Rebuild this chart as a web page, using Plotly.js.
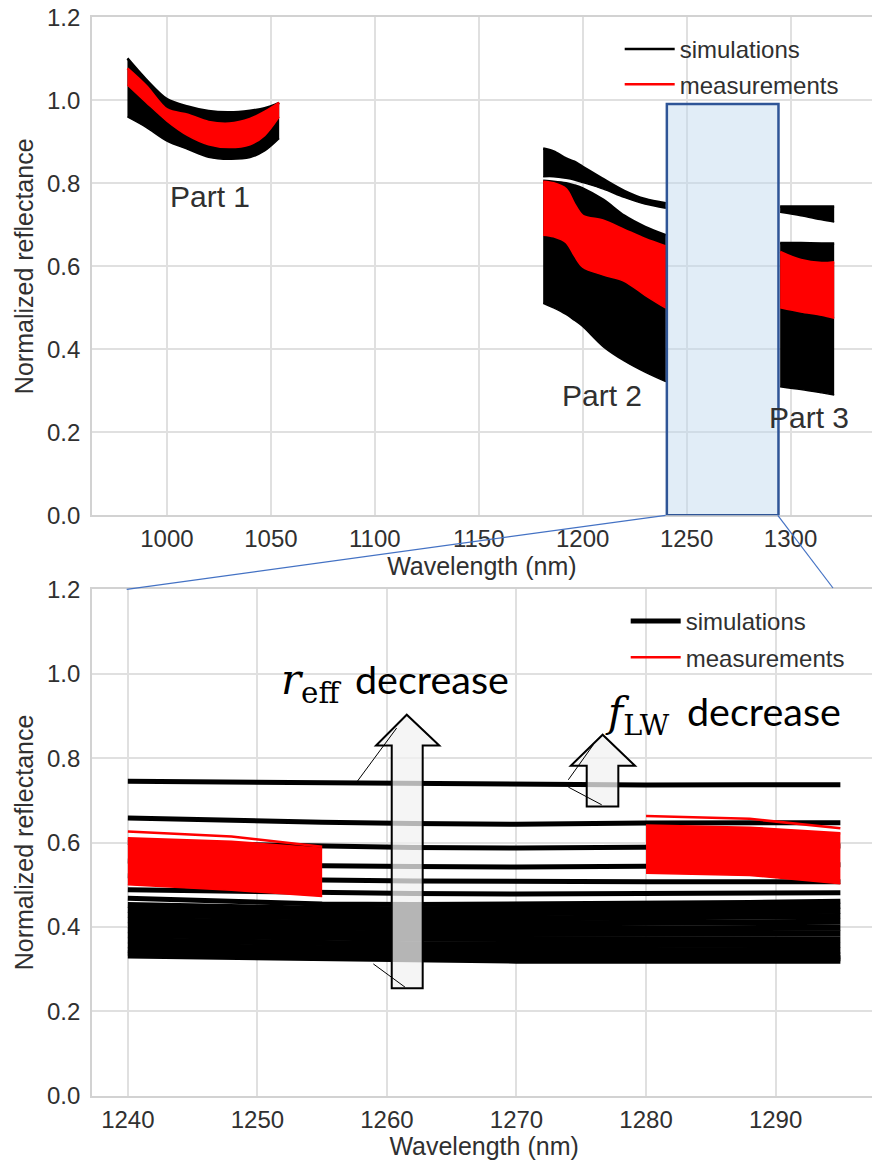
<!DOCTYPE html>
<html><head><meta charset="utf-8">
<script src="https://cdn.plot.ly/plotly-3.0.1.min.js"></script>
<style>html,body{margin:0;padding:0;overflow:hidden;background:#fff}#chart{width:880px;height:1160px}</style>
</head><body><div id="chart"></div>
<script>
// ================= DATA =================
// Top panel, Part 1
const part1Wavelength = [981, 990, 1000, 1010, 1020, 1030, 1040, 1047, 1054];
const part1SimUpper  = [1.101, 1.050, 1.003, 0.985, 0.974, 0.971, 0.975, 0.981, 0.994];
const part1SimLower  = [0.960, 0.935, 0.902, 0.882, 0.863, 0.858, 0.862, 0.878, 0.908];
const part1MeasUpper = [1.077, 1.035, 0.978, 0.965, 0.948, 0.944, 0.955, 0.972, 0.994];
const part1MeasLower = [1.037, 0.995, 0.950, 0.915, 0.893, 0.886, 0.893, 0.915, 0.960];
// Top panel, Part 2
const part2Wavelength   = [1181, 1186, 1192, 1196, 1200, 1210, 1220, 1230, 1240];
const part2SimTopUpper  = [0.884, 0.877, 0.860, 0.852, 0.840, 0.810, 0.782, 0.762, 0.752];
const part2SimTopLower  = [0.816, 0.816, 0.812, 0.808, 0.802, 0.786, 0.766, 0.750, 0.740];
const part2SimRestUpper = [0.806, 0.804, 0.800, 0.795, 0.788, 0.760, 0.722, 0.695, 0.675];
const part2SimRestLower = [0.511, 0.500, 0.484, 0.470, 0.455, 0.406, 0.372, 0.345, 0.322];
const part2MeasUpper    = [0.804, 0.800, 0.786, 0.750, 0.722, 0.710, 0.688, 0.666, 0.648];
const part2MeasLower    = [0.675, 0.671, 0.657, 0.625, 0.598, 0.579, 0.564, 0.530, 0.499];
// Top panel, Part 3
const part3Wavelength   = [1295, 1305, 1315, 1321];
const part3SimTopUpper  = [0.744, 0.744, 0.744, 0.744];
const part3SimTopLower  = [0.730, 0.722, 0.712, 0.707];
const part3SimRestUpper = [0.656, 0.656, 0.655, 0.655];
const part3SimRestLower = [0.310, 0.303, 0.295, 0.290];
const part3MeasUpper    = [0.635, 0.615, 0.608, 0.610];
const part3MeasLower    = [0.500, 0.490, 0.482, 0.475];

// Bottom panel (zoom 1240-1295 nm)
const zoomWavelength = [1240, 1248, 1255, 1262, 1270, 1280, 1288, 1295];
const zoomSim01 = [0.745, 0.743, 0.740, 0.738, 0.736, 0.736, 0.737, 0.737];
const zoomSim02 = [0.658, 0.652, 0.648, 0.645, 0.643, 0.646, 0.647, 0.647];
const zoomSim03 = [0.600, 0.595, 0.590, 0.588, 0.587, 0.588, 0.590, 0.592];
const zoomSim04 = [0.556, 0.550, 0.545, 0.543, 0.542, 0.544, 0.545, 0.547];
const zoomSim05 = [0.521, 0.515, 0.511, 0.509, 0.507, 0.507, 0.507, 0.507];
const zoomSim06 = [0.488, 0.484, 0.480, 0.479, 0.478, 0.479, 0.480, 0.481];
const zoomSim07 = [0.468, 0.460, 0.454, 0.453, 0.454, 0.456, 0.458, 0.461];
const zoomSim08 = [0.452, 0.447, 0.443, 0.442, 0.443, 0.445, 0.447, 0.450];
const zoomSim09 = [0.440, 0.435, 0.432, 0.431, 0.432, 0.434, 0.436, 0.438];
const zoomSim10 = [0.428, 0.424, 0.421, 0.420, 0.420, 0.422, 0.424, 0.426];
const zoomSim11 = [0.416, 0.412, 0.409, 0.408, 0.408, 0.409, 0.410, 0.412];
const zoomSim12 = [0.404, 0.400, 0.397, 0.396, 0.395, 0.396, 0.397, 0.398];
const zoomSim13 = [0.392, 0.388, 0.385, 0.384, 0.383, 0.383, 0.384, 0.385];
const zoomSim14 = [0.380, 0.376, 0.373, 0.372, 0.371, 0.370, 0.370, 0.371];
const zoomSim15 = [0.368, 0.364, 0.361, 0.359, 0.358, 0.357, 0.357, 0.357];
const zoomSim16 = [0.356, 0.352, 0.349, 0.347, 0.346, 0.345, 0.344, 0.344];
const zoomSim17 = [0.345, 0.341, 0.338, 0.336, 0.334, 0.333, 0.332, 0.332];
const zoomSim18 = [0.339, 0.335, 0.332, 0.329, 0.327, 0.326, 0.326, 0.326];
const zoomSim19 = [0.332, 0.328, 0.325, 0.322, 0.320, 0.320, 0.320, 0.320];
const zoomMeasWavelengthA = [1240, 1248, 1255];
const zoomMeasUpperA  = [0.610, 0.602, 0.585];
const zoomMeasLowerA  = [0.500, 0.487, 0.472];
const zoomMeasOutlierA = [0.626, 0.614, 0.590];
const zoomMeasWavelengthB = [1280, 1288, 1295];
const zoomMeasUpperB  = [0.640, 0.635, 0.622];
const zoomMeasLowerB  = [0.527, 0.522, 0.502];
const zoomMeasOutlierB = [0.663, 0.656, 0.634];

// Tick labels
const topXTicks = [1000, 1050, 1100, 1150, 1200, 1250, 1300];
const bottomXTicks = [1240, 1250, 1260, 1270, 1280, 1290];
const yTicks = [0.0, 0.2, 0.4, 0.6, 0.8, 1.0, 1.2];

// ================= BUILD =================
const SIM = '#000000', MEAS = '#ff0000';
const TXT = '#303030';
const traces = [];
function band(xs, up, lo, color, xa, ya, name, legendKey, showLeg, smooth) {
  const shape = smooth ? 'spline' : 'linear';
  traces.push({type:'scatter', mode:'lines', x:xs, y:up, xaxis:xa, yaxis:ya,
    line:{color:color, width:2.5, shape:shape, smoothing:0.9}, name:name, legendgroup:name, legend:legendKey,
    showlegend:showLeg, hoverinfo:'skip'});
  traces.push({type:'scatter', mode:'lines', x:xs, y:lo, xaxis:xa, yaxis:ya,
    line:{color:color, width:1.5, shape:shape, smoothing:0.9}, fill:'tonexty', fillcolor:color, name:name,
    legendgroup:name, legend:legendKey, showlegend:false, hoverinfo:'skip'});
}
// top: simulations
band(part1Wavelength, part1SimUpper, part1SimLower, SIM, 'x', 'y', 'simulations', 'legend', true, true);
band(part2Wavelength, part2SimTopUpper, part2SimTopLower, SIM, 'x', 'y', 'simulations', 'legend', false, true);
band(part2Wavelength, part2SimRestUpper, part2SimRestLower, SIM, 'x', 'y', 'simulations', 'legend', false, true);
band(part3Wavelength, part3SimTopUpper, part3SimTopLower, SIM, 'x', 'y', 'simulations', 'legend', false, true);
band(part3Wavelength, part3SimRestUpper, part3SimRestLower, SIM, 'x', 'y', 'simulations', 'legend', false, true);
// top: measurements
band(part1Wavelength, part1MeasUpper, part1MeasLower, MEAS, 'x', 'y', 'measurements', 'legend', true, true);
band(part2Wavelength, part2MeasUpper, part2MeasLower, MEAS, 'x', 'y', 'measurements', 'legend', false, true);
band(part3Wavelength, part3MeasUpper, part3MeasLower, MEAS, 'x', 'y', 'measurements', 'legend', false, true);

// bottom: simulations
const zoomSimLines = [zoomSim01, zoomSim02, zoomSim03, zoomSim04, zoomSim05, zoomSim06, zoomSim07,
  zoomSim08, zoomSim09, zoomSim10, zoomSim11, zoomSim12, zoomSim13, zoomSim14, zoomSim15,
  zoomSim16, zoomSim17, zoomSim18, zoomSim19];
zoomSimLines.forEach((ys, i) => {
  traces.push({type:'scatter', mode:'lines', x:zoomWavelength, y:ys, xaxis:'x2', yaxis:'y2',
    line:{color:SIM, width:i < 7 ? 5 : 6}, name:'simulations', legendgroup:'simulations2', legend:'legend2',
    showlegend:i === 0, hoverinfo:'skip'});
});
// bottom: measurements
band(zoomMeasWavelengthA, zoomMeasUpperA, zoomMeasLowerA, MEAS, 'x2', 'y2', 'measurements', 'legend2', false, false);
band(zoomMeasWavelengthB, zoomMeasUpperB, zoomMeasLowerB, MEAS, 'x2', 'y2', 'measurements', 'legend2', false, false);
traces.push({type:'scatter', mode:'lines', x:zoomMeasWavelengthA, y:zoomMeasOutlierA, xaxis:'x2', yaxis:'y2',
  line:{color:MEAS, width:2.5}, name:'measurements', legendgroup:'measurements', legend:'legend2',
  showlegend:true, hoverinfo:'skip'});
traces.push({type:'scatter', mode:'lines', x:zoomMeasWavelengthB, y:zoomMeasOutlierB, xaxis:'x2', yaxis:'y2',
  line:{color:MEAS, width:2.5}, name:'measurements', legendgroup:'measurements', legend:'legend2',
  showlegend:false, hoverinfo:'skip'});

const W = 880, H = 1160;
const FONT = 'Liberation Sans, Arial, sans-serif';
function axisStyle(extra) {
  return Object.assign({
    showgrid:true, gridcolor:'#e0e0e0', gridwidth:2,
    showline:true, linecolor:'#d2d2d2', linewidth:2, mirror:true,
    zeroline:false, ticks:'outside', tickcolor:'rgba(0,0,0,0)',
    tickfont:{family:FONT, size:24, color:TXT}
  }, extra);
}
const layout = {
  width:W, height:H, margin:{l:0, r:0, t:0, b:0},
  paper_bgcolor:'#ffffff', plot_bgcolor:'#ffffff',
  font:{family:FONT, color:TXT},
  xaxis: axisStyle({domain:[92.1/W, 871.6/W], range:[964, 1339], tickvals:topXTicks, ticklen:1, anchor:'y',
    title:{text:'Wavelength (nm)', font:{family:FONT, size:25, color:TXT}, standoff:0}}),
  yaxis: axisStyle({domain:[1-515.3/H, 1-17.3/H], range:[0, 1.2], tickvals:yTicks, tickformat:'.1f', ticklen:5, anchor:'x',
    title:{text:'Normalized reflectance', font:{family:FONT, size:25, color:TXT}, standoff:6}}),
  xaxis2: axisStyle({domain:[92.2/W, 876/W], range:[1237.25, 1297.75], tickvals:bottomXTicks, ticklen:1, anchor:'y2',
    title:{text:'Wavelength (nm)', font:{family:FONT, size:25, color:TXT}, standoff:2}}),
  yaxis2: axisStyle({domain:[1-1095.7/H, 1-589.3/H], range:[0, 1.2], tickvals:yTicks, tickformat:'.1f', ticklen:5, anchor:'x2',
    title:{text:'Normalized reflectance', font:{family:FONT, size:25, color:TXT}, standoff:6}}),
  legend: {x:(681.7-62)/W, xanchor:'left', y:1-27/H, yanchor:'top', bgcolor:'rgba(0,0,0,0)',
    font:{family:FONT, size:24, color:TXT}, itemwidth:50, tracegroupgap:1, traceorder:'grouped'},
  legend2: {x:(687.7-62)/W, xanchor:'left', y:1-599/H, yanchor:'top', bgcolor:'rgba(0,0,0,0)',
    font:{family:FONT, size:24, color:TXT}, itemwidth:50, tracegroupgap:2, traceorder:'grouped'},
  showlegend:true,
  annotations: [
    {xref:'x', yref:'y', x:1000.6, y:0.724, xanchor:'left', yanchor:'bottom', showarrow:false,
      text:'Part 1', font:{family:FONT, size:30, color:TXT}},
    {xref:'x', yref:'y', x:1189.3, y:0.244, xanchor:'left', yanchor:'bottom', showarrow:false,
      text:'Part 2', font:{family:FONT, size:30, color:TXT}},
    {xref:'x', yref:'y', x:1288.8, y:0.192, xanchor:'left', yanchor:'bottom', showarrow:false,
      text:'Part 3', font:{family:FONT, size:30, color:TXT}},
    {xref:'x2', yref:'y2', x:1256.6, y:1.048, xanchor:'right', yanchor:'top', showarrow:false,
      text:'<i>r</i><sub>eff</sub>', font:{family:'DejaVu Serif, serif', size:42, color:'#000'}},
    {xref:'x2', yref:'y2', x:1257.4, y:1.048, xanchor:'left', yanchor:'top', showarrow:false,
      text:'decrease', font:{family:'Lato, sans-serif', size:39.5, color:'#000'}},
    {xref:'x2', yref:'y2', x:1282.0, y:0.972, xanchor:'right', yanchor:'top', showarrow:false,
      text:'<i>f</i><sub>LW</sub>', font:{family:'DejaVu Serif, serif', size:41, color:'#000'}},
    {xref:'x2', yref:'y2', x:1283.0, y:0.973, xanchor:'left', yanchor:'top', showarrow:false,
      text:'decrease', font:{family:'Lato, sans-serif', size:39.5, color:'#000'}}
  ],
  shapes: [
    {type:'rect', xref:'x', yref:'y', x0:1240.5, x1:1294.2, y0:0, y1:0.991, layer:'above',
      line:{color:'#2f5597', width:2.5}, fillcolor:'rgba(189,215,238,0.45)'},
    {type:'line', xref:'paper', yref:'paper', x0:665.6/W, y0:1-515.3/H, x1:126.7/W, y1:1-589.3/H,
      line:{color:'#4472c4', width:1.2}},
    {type:'line', xref:'paper', yref:'paper', x0:777.8/W, y0:1-515.3/H, x1:833/W, y1:1-588/H,
      line:{color:'#4472c4', width:1.2}},
    // big block arrow (r_eff)
    {type:'path', xref:'x2', yref:'y2', layer:'above',
      path:'M1260.37,0.2547 L1260.37,0.830 L1259.16,0.830 L1261.53,0.9028 L1264.04,0.830 L1262.76,0.830 L1262.76,0.2547 Z',
      fillcolor:'rgba(242,242,242,0.75)', line:{color:'#000', width:2}},
    {type:'line', xref:'x2', yref:'y2', layer:'above', x0:1257.67, y0:0.7432, x1:1260.75, y1:0.8712, line:{color:'#000', width:1}},
    {type:'line', xref:'x2', yref:'y2', layer:'above', x0:1258.95, y0:0.3123, x1:1261.40, y1:0.2571, line:{color:'#000', width:1}},
    // small block arrow (f_LW)
    {type:'path', xref:'x2', yref:'y2', layer:'above',
      path:'M1275.42,0.6853 L1275.42,0.7818 L1274.19,0.7818 L1276.65,0.8553 L1279.15,0.7818 L1277.86,0.7818 L1277.86,0.6853 Z',
      fillcolor:'rgba(242,242,242,0.75)', line:{color:'#000', width:2}},
    {type:'line', xref:'x2', yref:'y2', layer:'above', x0:1274.0, y0:0.7486, x1:1275.93, y1:0.8316, line:{color:'#000', width:1}},
    {type:'line', xref:'x2', yref:'y2', layer:'above', x0:1274.0, y0:0.7313, x1:1276.58, y1:0.6893, line:{color:'#000', width:1}}
  ]
};
Plotly.newPlot('chart', traces, layout, {staticPlot:true, displayModeBar:false});
</script>
</body></html>
